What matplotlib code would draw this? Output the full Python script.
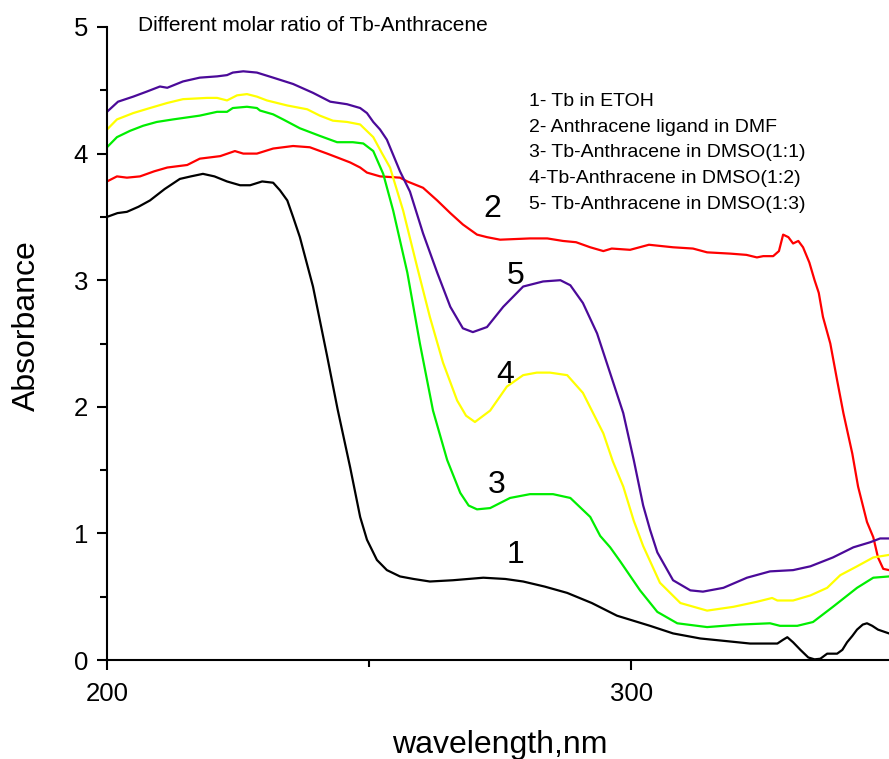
import matplotlib
matplotlib.use('Agg')
import matplotlib.pyplot as plt
from matplotlib.ticker import MultipleLocator

plt.rcParams['font.family'] = ['Liberation Sans', 'DejaVu Sans']

# ---------------- data ----------------
wl_1 = [200.0, 202.0, 203.8, 206.0, 208.2, 211.0, 213.9, 216.0, 218.3, 220.5, 222.9, 225.4,
        227.3, 229.6, 231.7, 233.0, 234.4, 235.5, 236.8, 239.3, 242.0, 244.0, 246.4, 248.3,
        249.6, 251.5, 253.4, 255.9, 258.5, 261.6, 266.0, 271.8, 276.0, 279.4, 283.5, 287.8,
        292.5, 297.3, 303.6, 308.0, 313.2, 318.0, 322.7, 327.9, 329.0, 329.8, 330.9, 332.3,
        333.8, 335.0, 336.1, 337.4, 339.3, 340.3, 341.2, 342.2, 343.1, 344.2, 345.0, 346.0,
        347.1, 349.2]
abs_1 = [3.50, 3.53, 3.54, 3.58, 3.63, 3.72, 3.80, 3.82, 3.84, 3.82, 3.78, 3.75,
         3.75, 3.78, 3.77, 3.71, 3.63, 3.50, 3.34, 2.95, 2.40, 1.98, 1.52, 1.13,
         0.95, 0.79, 0.71, 0.66, 0.64, 0.62, 0.63, 0.65, 0.64, 0.62, 0.58, 0.53,
         0.45, 0.35, 0.27, 0.21, 0.17, 0.15, 0.13, 0.13, 0.16, 0.18, 0.14, 0.08,
         0.02, 0.005, 0.01, 0.05, 0.05, 0.08, 0.14, 0.19, 0.24, 0.28, 0.29, 0.27,
         0.24, 0.21]

wl_2 = [200.0, 201.9, 203.8, 206.3, 209.0, 211.5, 215.3, 217.7, 221.6, 224.4, 226.0, 228.6,
        231.7, 235.5, 238.7, 242.0, 243.9, 246.4, 248.3, 249.6, 252.1, 255.9, 257.3, 260.3,
        263.0, 265.5, 267.9, 270.6, 272.5, 275.0, 280.7, 284.0, 287.0, 289.5, 292.2, 294.7,
        296.3, 299.8, 303.4, 308.0, 311.8, 314.5, 318.9, 322.0, 324.0, 325.2, 327.1, 328.2,
        329.0, 330.0, 330.9, 331.9, 332.8, 334.0, 335.0, 335.8, 336.6, 338.0, 339.3, 340.5,
        342.2, 343.3, 345.0, 346.2, 347.1, 348.1, 349.2]
abs_2 = [3.78, 3.82, 3.81, 3.82, 3.86, 3.89, 3.91, 3.96, 3.98, 4.02, 4.00, 4.00,
         4.04, 4.06, 4.05, 4.00, 3.97, 3.93, 3.89, 3.85, 3.82, 3.81, 3.78, 3.73,
         3.63, 3.53, 3.44, 3.36, 3.34, 3.32, 3.33, 3.33, 3.31, 3.30, 3.26, 3.23,
         3.25, 3.24, 3.28, 3.26, 3.25, 3.22, 3.21, 3.20, 3.18, 3.19, 3.19, 3.23,
         3.36, 3.34, 3.29, 3.31, 3.26, 3.14, 3.00, 2.90, 2.71, 2.50, 2.21, 1.95,
         1.63, 1.37, 1.09, 0.97, 0.81, 0.72, 0.71]

wl_3 = [200.0, 201.9, 204.4, 206.9, 209.5, 212.6, 217.7, 221.0, 222.9, 224.0, 226.7, 228.6,
        229.2, 231.7, 233.6, 236.8, 240.6, 243.9, 246.9, 248.9, 250.8, 252.7, 254.6, 257.3,
        259.7, 262.2, 264.9, 267.4, 269.0, 270.6, 273.1, 276.9, 280.7, 285.1, 288.4, 292.2,
        294.1, 296.0, 297.9, 301.7, 305.0, 308.8, 314.5, 320.8, 326.5, 328.4, 331.7, 334.7,
        338.5, 343.1, 346.2, 349.2]
abs_3 = [4.05, 4.13, 4.18, 4.22, 4.25, 4.27, 4.30, 4.33, 4.33, 4.36, 4.37, 4.36,
         4.34, 4.31, 4.27, 4.20, 4.14, 4.09, 4.09, 4.08, 4.02, 3.84, 3.55, 3.06,
         2.50, 1.97, 1.58, 1.32, 1.22, 1.19, 1.20, 1.28, 1.31, 1.31, 1.28, 1.13,
         0.98, 0.89, 0.78, 0.55, 0.38, 0.29, 0.26, 0.28, 0.29, 0.27, 0.27, 0.30,
         0.42, 0.57, 0.65, 0.66]

wl_4 = [200.0, 201.9, 205.0, 208.2, 211.5, 214.5, 219.1, 221.0, 222.9, 224.8, 226.7, 228.6,
        230.5, 234.4, 238.2, 240.6, 243.1, 245.8, 248.3, 250.8, 252.5, 254.0, 256.5, 259.2,
        261.6, 264.1, 266.8, 268.5, 270.2, 273.1, 276.3, 279.4, 282.0, 284.5, 287.8, 290.8,
        294.7, 296.5, 298.5, 300.5, 302.3, 305.5, 309.4, 314.5, 319.5, 324.0, 326.9, 327.9,
        330.9, 334.2, 337.4, 339.9, 343.1, 346.2, 349.2]
abs_4 = [4.19, 4.27, 4.32, 4.36, 4.40, 4.43, 4.44, 4.44, 4.42, 4.46, 4.47, 4.45,
         4.42, 4.38, 4.35, 4.30, 4.26, 4.25, 4.23, 4.13, 4.00, 3.89, 3.55, 3.10,
         2.71, 2.35, 2.05, 1.93, 1.88, 1.97, 2.16, 2.25, 2.27, 2.27, 2.25, 2.11,
         1.79, 1.57, 1.37, 1.10, 0.90, 0.61, 0.45, 0.39, 0.42, 0.46, 0.49, 0.47,
         0.47, 0.51, 0.57, 0.67, 0.74, 0.81, 0.83]

wl_5 = [200.0, 202.1, 205.0, 207.6, 210.1, 211.5, 214.5, 217.7, 221.0, 222.9, 224.0, 226.0,
        228.6, 231.7, 235.5, 239.3, 242.6, 245.8, 248.3, 249.6, 250.8, 252.1, 253.4, 254.6,
        255.9, 257.8, 260.3, 263.0, 265.5, 267.9, 269.8, 272.5, 275.6, 279.4, 283.2, 286.5,
        288.4, 290.8, 293.5, 296.6, 298.5, 300.5, 302.3, 303.6, 305.0, 308.0, 311.3, 313.7,
        317.6, 322.1, 326.5, 330.9, 334.2, 338.5, 342.4, 345.6, 347.5, 349.2]
abs_5 = [4.33, 4.41, 4.45, 4.49, 4.53, 4.52, 4.57, 4.60, 4.61, 4.62, 4.64, 4.65,
         4.64, 4.60, 4.55, 4.48, 4.41, 4.39, 4.36, 4.32, 4.25, 4.19, 4.11, 3.99,
         3.86, 3.70, 3.37, 3.06, 2.79, 2.62, 2.59, 2.63, 2.79, 2.95, 2.99, 3.00,
         2.96, 2.82, 2.58, 2.19, 1.95, 1.58, 1.22, 1.03, 0.85, 0.63, 0.55, 0.54,
         0.57, 0.65, 0.70, 0.71, 0.74, 0.81, 0.89, 0.93, 0.96, 0.96]

series = [
    (wl_1, abs_1, '#000000'),
    (wl_2, abs_2, '#ff0000'),
    (wl_3, abs_3, '#00ee00'),
    (wl_4, abs_4, '#ffff00'),
    (wl_5, abs_5, '#4b0a99'),
]

legend_lines = ["1- Tb in ETOH",
                "2- Anthracene ligand in DMF",
                "3- Tb-Anthracene in DMSO(1:1)",
                "4-Tb-Anthracene in DMSO(1:2)",
                "5- Tb-Anthracene in DMSO(1:3)"]
curve_labels = ["1", "2", "3", "4", "5"]
curve_label_pos = [(277.9, 0.77), (273.5, 3.50), (274.4, 1.32), (276.0, 2.19), (277.9, 2.97)]

title = "Different molar ratio of Tb-Anthracene"
xlabel = "wavelength,nm"
ylabel = "Absorbance"

# ---------------- figure ----------------
W, H = 889, 759
fig = plt.figure(figsize=(W / 100, H / 100), dpi=100)
ax = fig.add_axes([107 / W, 99 / H, 782 / W, 633 / H])

for x, y, c in series:
    ax.plot(x, y, color=c, lw=1.6, solid_joinstyle='round')

ax.set_xlim(200, 349.2)
ax.set_ylim(0, 5)
for s in ('top', 'right'):
    ax.spines[s].set_visible(False)
for s in ('left', 'bottom'):
    ax.spines[s].set_linewidth(1.5)

ax.xaxis.set_major_locator(MultipleLocator(100))
ax.xaxis.set_minor_locator(MultipleLocator(50))
ax.yaxis.set_major_locator(MultipleLocator(1))
ax.yaxis.set_minor_locator(MultipleLocator(0.5))
ax.tick_params(which='major', direction='out', length=7.5, width=1.5, labelsize=18.5)
ax.tick_params(which='minor', direction='out', length=5, width=1.5)
ax.tick_params(axis='x', which='major', pad=8)
ax.tick_params(axis='y', which='major', pad=6)

# title inside the axes
ax.text(205.9, 4.97, title, fontsize=15, ha='left', va='baseline')

# legend text block
leg_y = [4.376, 4.171, 3.97, 3.765, 3.56]
for t, yy in zip(legend_lines, leg_y):
    ax.text(280.5, yy, t, fontsize=14, ha='left', va='baseline')

# curve numbers
for t, (xx, yy) in zip(curve_labels, curve_label_pos):
    ax.text(xx, yy, t, fontsize=23, ha='center', va='baseline')

fig.text(500 / W, 1 - 753 / H, xlabel, fontsize=23, ha='center', va='baseline')
fig.text(35 / W, 1 - 326 / H, ylabel, fontsize=23, ha='center', va='baseline',
         rotation=90, rotation_mode='anchor')

fig.savefig('out.png', dpi=100)
